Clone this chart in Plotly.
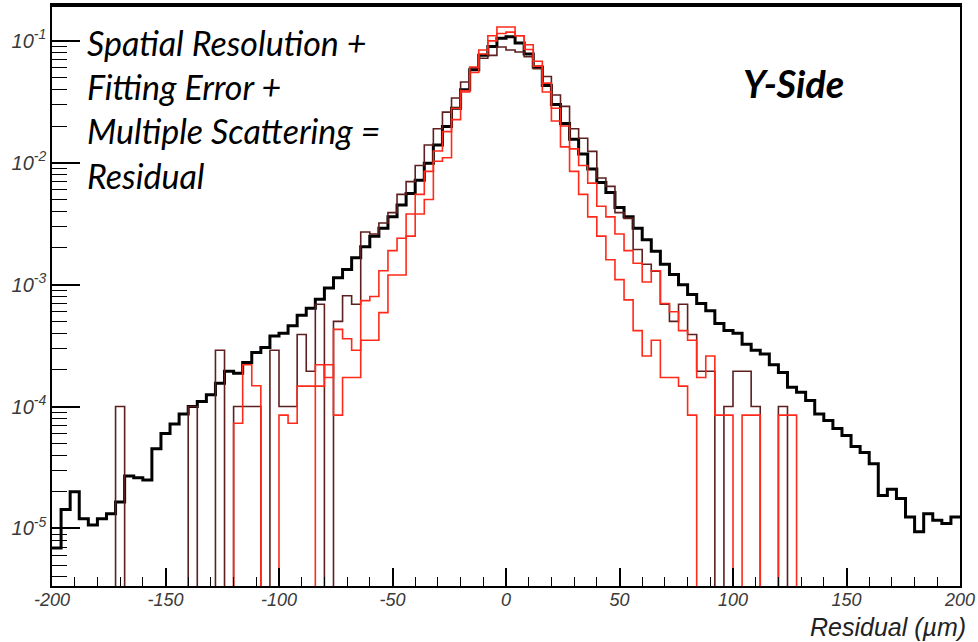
import numpy as np
import plotly.graph_objects as go

# ---------------- data (bin width 4 um, 100 bins from -200 to 200) ----------------
bin_edges = list(range(-200, 201, 4))

black = [
    6.9e-6, 1.43e-5, 2.0e-5, 1.2e-5, 1.07e-5, 1.2e-5, 1.32e-5, 1.65e-5, 2.7e-5, 2.6e-5,   # -200..-164
    2.5e-5, 4.5e-5, 6.0e-5, 7.2e-5, 8.7e-5, 1.0e-4, 1.1e-4, 1.25e-4, 1.55e-4, 1.95e-4,   # -160..-124
    1.88e-4, 2.3e-4, 2.77e-4, 3.05e-4, 3.8e-4, 4.0e-4, 4.6e-4, 5.6e-4, 6.4e-4, 7.6e-4,  # -120..-84
    9.4e-4, 1.14e-3, 1.33e-3, 1.66e-3, 2.05e-3, 2.5e-3, 2.9e-3, 3.6e-3, 4.5e-3, 5.6e-3, # -80..-44
    7.2e-3, 9.9e-3, 1.4e-2, 1.98e-2, 2.8e-2, 3.97e-2, 5.8e-2, 7.6e-2, 9.0e-2, 1.05e-1,  # -40..-4
    1.08e-1, 9.6e-2, 7.8e-2, 6.1e-2, 4.3e-2, 3.0e-2, 2.1e-2, 1.56e-2, 1.18e-2, 8.9e-3,  # 0..36
    6.9e-3, 5.7e-3, 4.3e-3, 3.6e-3, 2.9e-3, 2.34e-3, 1.88e-3, 1.47e-3, 1.21e-3, 1.0e-3, # 40..76
    8.3e-4, 7.0e-4, 6.1e-4, 4.8e-4, 4.2e-4, 4.0e-4, 3.25e-4, 2.9e-4, 2.7e-4, 2.2e-4,    # 80..116
    1.9e-4, 1.44e-4, 1.31e-4, 1.12e-4, 8.7e-5, 7.7e-5, 6.6e-5, 5.8e-5, 4.7e-5, 4.2e-5,  # 120..156
    3.4e-5, 1.86e-5, 2.1e-5, 1.76e-5, 1.24e-5, 9.4e-6, 1.32e-5, 1.17e-5, 1.1e-5, 1.24e-5, # 160..196
]

maroon = [
    0, 0, 0, 0, 0, 0, 0, 1.0e-4, 0, 0,                                                  # -200..-164
    0, 0, 0, 0, 0, 1.0e-4, 0, 0, 2.9e-4, 0,                                             # -160..-124
    1.0e-4, 1.0e-4, 1.0e-4, 0, 2.9e-4, 1.0e-4, 1.0e-4, 3.9e-4, 1.95e-4, 6.9e-4,        # -120..-84
    0, 5.0e-4, 8.1e-4, 6.9e-4, 2.7e-3, 2.6e-3, 3.2e-3, 3.9e-3, 5.5e-3, 7.0e-3,          # -80..-44
    9.5e-3, 1.4e-2, 1.9e-2, 2.6e-2, 3.4e-2, 4.6e-2, 6.0e-2, 7.2e-2, 7.6e-2, 8.9e-2,     # -40..-4
    8.4e-2, 8.1e-2, 7.4e-2, 5.9e-2, 5.1e-2, 3.6e-2, 2.9e-2, 1.9e-2, 1.59e-2, 1.24e-2,   # 0..36
    7.5e-3, 6.4e-3, 3.9e-3, 3.5e-3, 1.94e-3, 1.47e-3, 1.29e-3, 6.9e-4, 5.0e-4, 6.9e-4,  # 40..76
    3.9e-4, 1.95e-4, 1.95e-4, 0, 1.0e-4, 1.95e-4, 1.95e-4, 1.0e-4, 0, 0,                # 80..116
    1.0e-4, 0, 0, 0, 0, 0, 0, 0, 0, 0,                                                  # 120..156
    0, 0, 0, 0, 0, 0, 0, 0, 0, 0,                                                       # 160..196
]

red_a = [
    0, 0, 0, 0, 0, 0, 0, 0, 0, 0,                                                       # -200..-164
    0, 0, 0, 0, 0, 0, 0, 0, 0, 0,                                                       # -160..-124
    7.3e-5, 2.2e-4, 1.48e-4, 0, 0, 8.5e-5, 7.3e-5, 1.47e-4, 1.47e-4, 2.2e-4,           # -120..-84
    1.73e-4, 4.3e-4, 3.6e-4, 2.9e-4, 7.4e-4, 8.0e-4, 1.3e-3, 1.9e-3, 2.4e-3, 3.8e-3,   # -80..-44
    5.5e-3, 8.5e-3, 1.25e-2, 1.8e-2, 2.8e-2, 3.9e-2, 5.5e-2, 7.8e-2, 1.0e-1, 1.15e-1,  # -40..-4
    1.18e-1, 1.1e-1, 8.5e-2, 6.8e-2, 4.5e-2, 2.8e-2, 2.0e-2, 1.3e-2, 9.5e-3, 6.8e-3,   # 0..36
    4.4e-3, 3.6e-3, 2.6e-3, 1.9e-3, 1.5e-3, 1.05e-3, 1.3e-3, 7.0e-4, 6.0e-4, 4.2e-4,   # 40..76
    3.5e-4, 1.73e-4, 2.6e-4, 8.5e-5, 8.5e-5, 0, 8.5e-5, 8.5e-5, 0, 0,                  # 80..116
    8.5e-5, 8.5e-5, 0, 0, 0, 0, 0, 0, 0, 0,                                            # 120..156
    0, 0, 0, 0, 0, 0, 0, 0, 0, 0,                                                      # 160..196
]

red_b = [
    0, 0, 0, 0, 0, 0, 0, 0, 0, 0,                                                       # -200..-164
    0, 0, 0, 0, 0, 0, 0, 0, 0, 0,                                                       # -160..-124
    0, 0, 0, 0, 0, 0, 0, 0, 0, 1.47e-4,                                                # -120..-84
    2.2e-4, 8.5e-5, 1.73e-4, 1.73e-4, 3.5e-4, 3.5e-4, 5.9e-4, 1.2e-3, 1.2e-3, 2.5e-3,  # -80..-44
    3.8e-3, 5.0e-3, 1.03e-2, 1.1e-2, 2.26e-2, 3.8e-2, 6.1e-2, 8.4e-2, 1.1e-1, 1.3e-1,  # -40..-4
    1.3e-1, 1.1e-1, 9.3e-2, 6.2e-2, 3.8e-2, 2.2e-2, 1.35e-2, 8.5e-3, 5.5e-3, 3.6e-3,   # 0..36
    2.5e-3, 1.6e-3, 1.1e-3, 7.5e-4, 4.2e-4, 2.6e-4, 3.5e-4, 1.73e-4, 1.73e-4, 1.47e-4, # 40..76
    8.5e-5, 0, 0, 0, 0, 0, 0, 0, 0, 0,                                                 # 80..116
    0, 0, 0, 0, 0, 0, 0, 0, 0, 0,                                                      # 120..156
    0, 0, 0, 0, 0, 0, 0, 0, 0, 0,                                                      # 160..196
]

y_tick_vals = [1e-5, 1e-4, 1e-3, 1e-2, 1e-1]
y_tick_text = ["10<sup>-5</sup>", "10<sup>-4</sup>", "10<sup>-3</sup>", "10<sup>-2</sup>", "10<sup>-1</sup>"]
x_tick_vals = [-200, -150, -100, -50, 0, 50, 100, 150, 200]
x_tick_text = ["-200", "-150", "-100", "-50", "0", "50", "100", "150", "200"]

annotation_lines = ["Spatial Resolution +", "Fitting Error +", "Multiple Scattering =", "Residual"]
side_label = "Y-Side"
x_title = "Residual (\u00b5m)"

# ---------------- figure ----------------
FLOOR = 1e-9  # empty bins drop to the bottom of the frame (clipped)


def step_trace(vals, color, width):
    ys = [v if v > 0 else FLOOR for v in vals]
    ys = ys + [ys[-1]]
    return go.Scatter(x=bin_edges, y=ys, mode="lines", line=dict(color=color, width=width, shape="hv"),
                      hoverinfo="skip", showlegend=False)


fig = go.Figure()
fig.add_trace(step_trace(black, "#000000", 3))
fig.add_trace(step_trace(maroon, "#5e1f1f", 1.6))
fig.add_trace(step_trace(red_a, "#ff2a1a", 1.6))
fig.add_trace(step_trace(red_b, "#ff2a1a", 1.6))

minor_y = [k * 10.0 ** d for d in range(-6, 0) for k in range(2, 10)]

x_tick_font = dict(family="Liberation Sans, Arial, sans-serif", size=18, color="#3a3a3a", style="italic")
y_tick_font = dict(family="Liberation Sans, Arial, sans-serif", size=20, color="#3a3a3a", style="italic")

fig.update_layout(
    width=978, height=642,
    margin=dict(l=52, r=16, t=3, b=56),
    paper_bgcolor="white", plot_bgcolor="white",
    xaxis=dict(
        range=[-200, 200], showgrid=False, zeroline=False,
        showline=True, linecolor="black", linewidth=1.5, mirror=True,
        tickvals=x_tick_vals, ticktext=x_tick_text,
        ticks="inside", ticklen=18, tickwidth=1.5, tickcolor="black",
        ticklabelstandoff=-3,
        minor=dict(dtick=10, ticks="inside", ticklen=9, tickwidth=1.2, tickcolor="black"),
        tickfont=x_tick_font,
    ),
    yaxis=dict(
        type="log", range=[-5.472, -0.706], showgrid=False, zeroline=False,
        showline=True, linecolor="black", linewidth=1.5, mirror=True,
        tickvals=y_tick_vals, ticktext=y_tick_text,
        ticks="inside", ticklen=28, tickwidth=1.5, tickcolor="black",
        minor=dict(tickvals=minor_y, ticks="inside", ticklen=15, tickwidth=1.2, tickcolor="black"),
        tickfont=y_tick_font,
    ),
)

# thicker top frame line
fig.add_shape(type="line", xref="paper", yref="paper", x0=0, x1=1, y0=1, y1=1,
              line=dict(color="black", width=4))

fig.add_annotation(
    text="<br>".join(annotation_lines), xref="paper", yref="paper",
    x=0.036, y=0.975, xanchor="left", yanchor="top", align="left", showarrow=False,
    font=dict(family="Lato, Open Sans, sans-serif", size=34, color="black", style="italic"),
)
fig.add_annotation(
    text="<b>" + side_label + "</b>", xref="paper", yref="paper",
    x=0.8165, y=0.866, xanchor="center", yanchor="middle", showarrow=False,
    font=dict(family="Lato, Open Sans, sans-serif", size=38, color="black", style="italic"),
)
fig.add_annotation(
    text=x_title, xref="paper", yref="paper",
    x=1.008, y=-0.097, xanchor="right", yanchor="bottom", showarrow=False, borderpad=0,
    font=dict(family="Liberation Sans, Arial, sans-serif", size=25, color="#222222", style="italic"),
)

fig.write_html("out.html")
